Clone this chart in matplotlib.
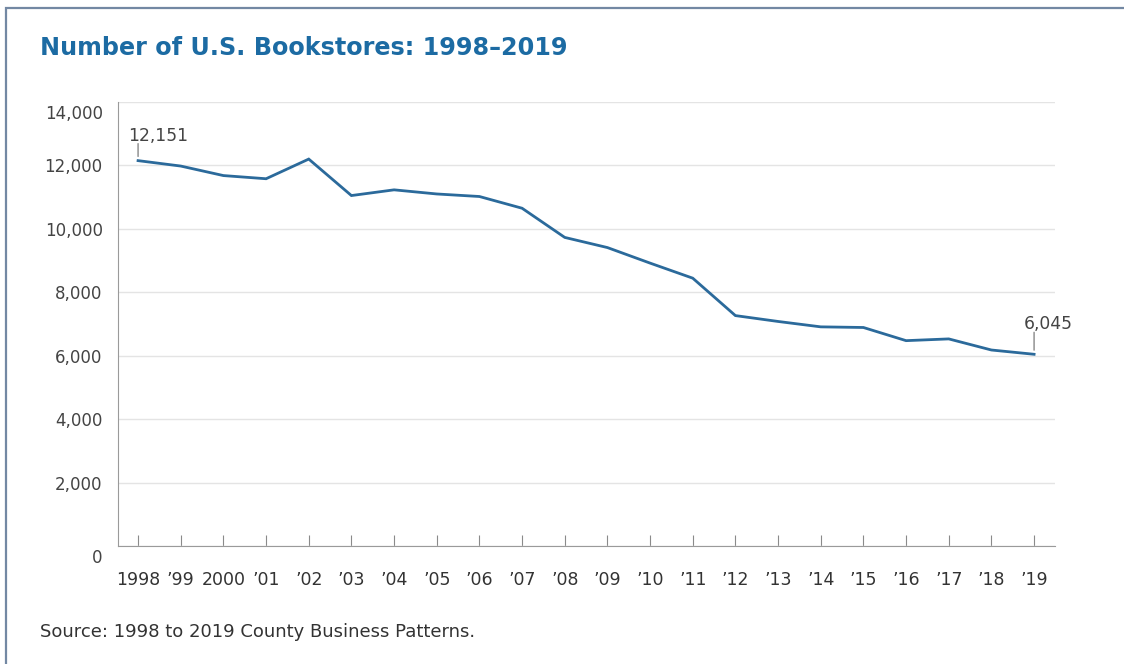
import matplotlib.pyplot as plt
import matplotlib.transforms as mtransforms
from matplotlib.patches import Rectangle

# bookstore counts by year
years = list(range(1998, 2020))
stores = [12151, 11980, 11680, 11580, 12200, 11050, 11230, 11100, 11020, 10650,
          9730, 9410, 8920, 8445, 7265, 7080, 6910, 6890, 6475, 6530, 6180, 6045]
year_labels = ["1998", "\u201999", "2000"] + ["\u2019%02d" % (y % 100) for y in years[3:]]

plt.rcParams['font.family'] = ['DejaVu Sans']

fig = plt.figure(figsize=(11.24, 6.64), dpi=100)
ax = fig.add_axes([0.105, 0.1777, 0.8336, 0.6687])

ax.plot(years, stores, color="#2b6a9b", lw=2.0, solid_joinstyle="miter")

ax.set_xlim(1997.53, 2019.49)
ax.set_ylim(0, 14000)
ax.set_yticks(range(0, 14001, 2000))
ax.set_yticklabels(["{:,}".format(v) for v in range(0, 14001, 2000)])
ax.set_xticks(years)
ax.set_xticklabels(year_labels)

ax.grid(axis="y", color="#e4e4e4", lw=1)
ax.set_axisbelow(True)
for s in ["top", "right"]:
    ax.spines[s].set_visible(False)
ax.spines["left"].set_color("#9a9a9a")
ax.spines["bottom"].set_color("#9a9a9a")
ax.tick_params(axis="x", direction="in", length=8, color="#8a8a8a", pad=18,
               labelsize=12.5, labelcolor="#333333")
ax.tick_params(axis="y", length=0, pad=11, labelsize=12, labelcolor="#444444")

# bottom and top y labels sit a little below their gridlines
shift = mtransforms.ScaledTranslation(0, -7 / 72, fig.dpi_scale_trans)
ylabels = ax.get_yticklabels()
for lab in (ylabels[0], ylabels[-1]):
    lab.set_transform(lab.get_transform() + shift)

# end-point callouts: short vertical leader plus the value above it
for x, v, lead, dy in [(years[0], stores[0], 17, 20), (years[-1], stores[-1], 22, 25)]:
    ax.annotate("", xy=(x, v), xytext=(0, lead * 0.72), textcoords="offset points",
                arrowprops=dict(arrowstyle="-", color="#888888", lw=1,
                                shrinkA=0, shrinkB=3))
    ax.annotate("{:,}".format(v), xy=(x, v), xytext=(-7.2, dy * 0.72),
                textcoords="offset points", ha="left", va="baseline",
                fontsize=12.3, color="#444444")

fig.text(40 / 1124, 1 - 48 / 664, "Number of U.S. Bookstores: 1998\u20132019",
         fontsize=17.2, fontweight="bold", color="#1c6ba3", va="center")
fig.text(40 / 1124, 1 - 632 / 664, "Source: 1998 to 2019 County Business Patterns.",
         fontsize=13, color="#333333", va="center")

# outer frame, running off the right and bottom edges
fig.patches.append(Rectangle((6 / 1124, -0.1), 1.2, 1 - 8 / 664 + 0.1,
                             transform=fig.transFigure, fill=False,
                             edgecolor="#7388a3", lw=1.6))

fig.savefig("out.png", dpi=100)
